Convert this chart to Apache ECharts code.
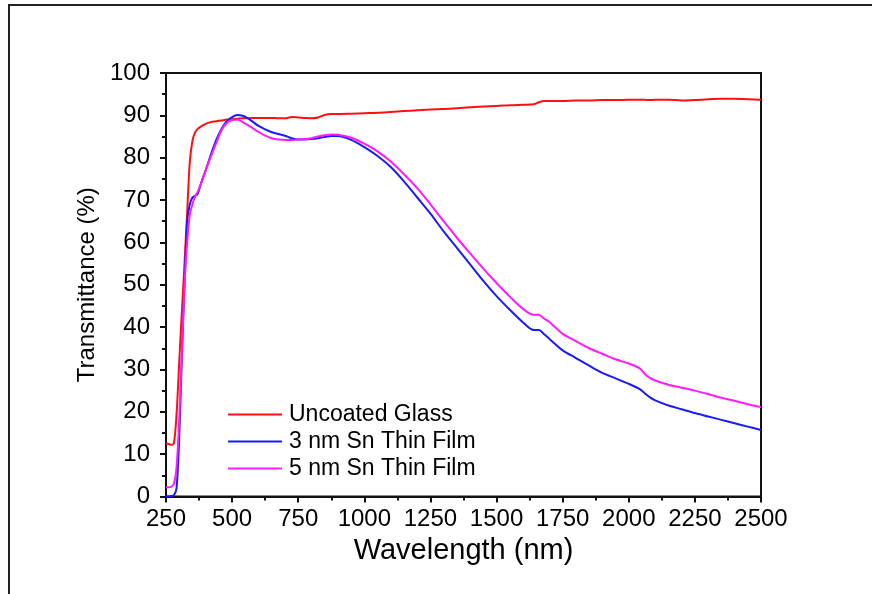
<!DOCTYPE html>
<html>
<head>
<meta charset="utf-8">
<script src="https://cdn.jsdelivr.net/npm/echarts@6/dist/echarts.min.js"></script>
<style>
  html, body { margin: 0; padding: 0; background: #fff; }
  #chart { width: 872px; height: 594px; }
</style>
</head>
<body>
<div id="chart"></div>
<script>
// wavelength grid (nm) shared by all three curves
var wavelength = [250, 260, 270, 280, 290, 300, 310, 320, 330, 340, 350, 360, 370, 380, 400, 420, 440, 460, 480, 500,
  520, 540, 560, 580, 600, 625, 650, 675, 700, 725, 750, 775, 800, 825, 850, 875, 900, 950, 1000, 1050,
  1100, 1150, 1200, 1250, 1300, 1350, 1400, 1450, 1500, 1550, 1600, 1640, 1660, 1680, 1700, 1750, 1800, 1850, 1900, 1950,
  2000, 2040, 2060, 2080, 2100, 2150, 2200, 2250, 2300, 2350, 2400, 2450, 2500];

var uncoated = [12.5, 12.4, 12.2, 12.6, 19.5, 31.8, 43.7, 55, 67, 79, 84, 86, 86.8, 87.3, 88, 88.4, 88.6, 88.8, 89, 89.1,
  89.2, 89.3, 89.3, 89.4, 89.4, 89.4, 89.4, 89.3, 89.3, 89.6, 89.5, 89.4, 89.3, 89.5, 90.1, 90.3, 90.3, 90.4, 90.5, 90.6,
  90.8, 91.0, 91.2, 91.4, 91.5, 91.7, 91.9, 92.1, 92.2, 92.4, 92.5, 92.6, 93.1, 93.4, 93.4, 93.4, 93.5, 93.5, 93.6, 93.6,
  93.7, 93.7, 93.7, 93.6, 93.7, 93.7, 93.5, 93.6, 93.8, 93.9, 93.9, 93.8, 93.7];

var sn3nm = [0, 0, 0.1, 0.3, 2, 14, 33, 50, 65, 69, 70.6, 71, 71.5, 73.5, 77, 80.8, 84.2, 86.8, 88.6, 89.6,
  90.1, 89.9, 89.3, 88.4, 87.5, 86.7, 86, 85.6, 85.2, 84.6, 84.3, 84.3, 84.4, 84.6, 84.9, 85.1, 85.1, 84.2, 82.5, 80.4,
  77.8, 74.4, 70.6, 66.8, 62.6, 58.7, 54.8, 50.9, 47.3, 44.1, 41.1, 39.3, 39.3, 38.3, 37.2, 34.5, 32.7, 30.9, 29.2, 27.9,
  26.6, 25.4, 24.4, 23.4, 22.7, 21.5, 20.6, 19.7, 18.9, 18.1, 17.3, 16.5, 15.7];

var sn5nm = [2.2, 2.2, 2.3, 3, 7, 18, 34, 50, 60, 66.5, 69, 70.8, 72, 73.5, 77, 80.3, 83.5, 86.5, 88.2, 88.9,
  89, 88.4, 87.7, 86.9, 86.1, 85.2, 84.6, 84.3, 84.2, 84.2, 84.3, 84.4, 84.6, 85.0, 85.3, 85.5, 85.4, 84.7, 83.3, 81.5,
  79.1, 76.1, 72.8, 69, 65, 61.1, 57.4, 53.8, 50.4, 47.2, 44.3, 42.9, 42.9, 42, 41.2, 38.4, 36.7, 35, 33.7, 32.4,
  31.4, 30.3, 29, 28, 27.4, 26.4, 25.7, 25, 24.2, 23.3, 22.6, 21.8, 21.1];

var seriesNames = ['Uncoated Glass', '3 nm Sn Thin Film', '5 nm Sn Thin Film'];
var seriesColors = ['#ff1010', '#1a1aff', '#ff1aff'];

function pairs(ys) {
  return wavelength.map(function (x, i) { return [x, ys[i]]; });
}

var font = 'Liberation Sans, Arial, sans-serif';
var chart = echarts.init(document.getElementById('chart'));
var option = {
  backgroundColor: '#fff',
  animation: false,
  textStyle: { fontFamily: font, color: '#000' },
  graphic: [{
    type: 'rect',
    shape: { x: 9, y: 5, width: 900, height: 700 },
    style: { fill: 'none', stroke: '#222', lineWidth: 2 },
    silent: true
  }],
  grid: {
    left: 166, right: 111, top: 73, bottom: 97.5,
    show: true, borderColor: '#111', borderWidth: 2, backgroundColor: 'transparent'
  },
  legend: {
    orient: 'vertical',
    left: 228, top: 403,
    padding: 0,
    icon: 'rect',
    itemWidth: 54, itemHeight: 2, itemGap: 4,
    textStyle: { fontFamily: font, fontSize: 23, color: '#000', lineHeight: 23, padding: [0, 0, 0, 2] },
    data: seriesNames
  },
  xAxis: {
    type: 'value', min: 250, max: 2500, interval: 250,
    name: 'Wavelength (nm)', nameLocation: 'middle', nameGap: 38,
    nameTextStyle: { fontFamily: font, fontSize: 29, color: '#000' },
    axisLine: { lineStyle: { color: '#111', width: 2 } },
    axisTick: { show: true, length: 6, lineStyle: { color: '#111', width: 2 } },
    minorTick: { show: true, splitNumber: 2, length: 4, lineStyle: { color: '#111', width: 2 } },
    axisLabel: { fontFamily: font, fontSize: 24, color: '#000', margin: 11, formatter: function (v) { return String(v); } },
    splitLine: { show: false }
  },
  yAxis: {
    type: 'value', min: 0, max: 100, interval: 10,
    name: 'Transmittance (%)', nameLocation: 'middle', nameGap: 67,
    nameTextStyle: { fontFamily: font, fontSize: 24, color: '#000' },
    axisLine: { show: true, lineStyle: { color: '#111', width: 2 } },
    axisTick: { show: true, length: 6, lineStyle: { color: '#111', width: 2 } },
    minorTick: { show: true, splitNumber: 2, length: 4, lineStyle: { color: '#111', width: 2 } },
    axisLabel: { fontFamily: font, fontSize: 24, color: '#000', margin: 16 },
    splitLine: { show: false }
  },
  series: [uncoated, sn3nm, sn5nm].map(function (ys, i) {
    return {
      name: seriesNames[i],
      type: 'line',
      data: pairs(ys),
      symbol: 'none',
      smooth: 0.3,
      color: seriesColors[i],
      lineStyle: { color: seriesColors[i], width: 2 }
    };
  })
};
chart.setOption(option);
window.addEventListener('resize', function () { chart.resize(); });
</script>
</body>
</html>
